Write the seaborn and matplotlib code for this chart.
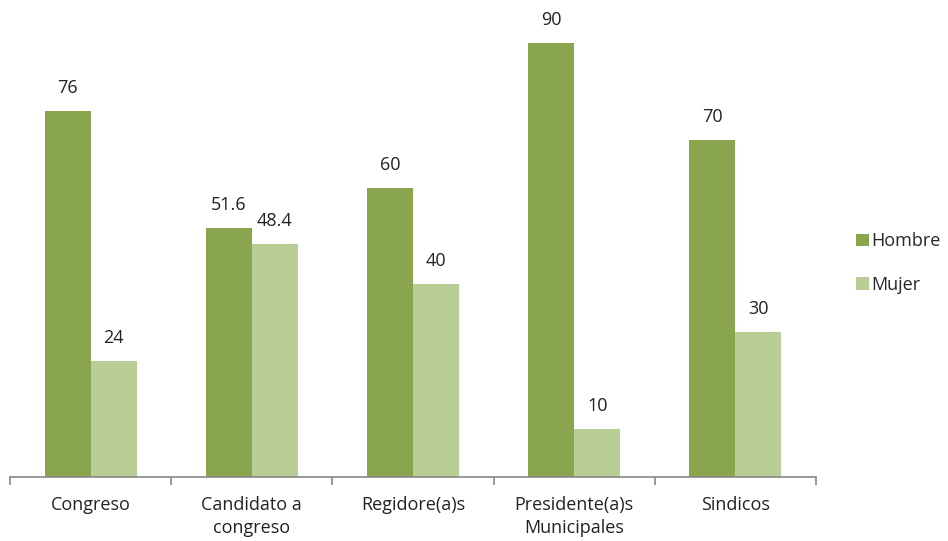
import matplotlib
matplotlib.use("Agg")
import matplotlib.pyplot as plt
import seaborn as sns
import pandas as pd
from matplotlib.patches import Patch

categories = ["Congreso", "Candidato a\ncongreso", "Regidore(a)s", "Presidente(a)s\nMunicipales", "Sindicos"]
hombre = [76, 51.6, 60, 90, 70]
mujer = [24, 48.4, 40, 10, 30]
series = ["Hombre", "Mujer"]
colors = ["#89A54E", "#B9CE96"]

df = pd.DataFrame({
    "cat": categories * 2,
    "val": hombre + mujer,
    "sexo": [series[0]] * len(categories) + [series[1]] * len(categories),
})

sns.set_style("white")
plt.rcParams["font.family"] = ["Open Sans", "DejaVu Sans"]

fig = plt.figure(figsize=(9.48, 5.41), dpi=100)
ax = fig.add_axes([10 / 948, (541 - 477) / 541, 806 / 948, (477 - 19) / 541])

sns.barplot(data=df, x="cat", y="val", hue="sexo", palette=colors, width=0.57,
            saturation=1, ax=ax, legend=False, linewidth=0, edgecolor="none")

for cont in ax.containers:
    labels = [("%g" % v) for v in cont.datavalues]
    ax.bar_label(cont, labels=labels, padding=10, fontsize=13, color="#222222")

ax.set_xlim(-0.5, len(categories) - 0.5)
ax.set_ylim(0, 95)
ax.set_xlabel("")
ax.set_ylabel("")
ax.set_yticks([])
for s in ["top", "right", "left"]:
    ax.spines[s].set_visible(False)
ax.spines["bottom"].set_color("#888888")
ax.spines["bottom"].set_linewidth(1.2)
ax.tick_params(axis="x", which="major", bottom=True, length=0, pad=14, labelsize=13, labelcolor="#222222")
for lbl in ax.get_xticklabels():
    lbl.set_linespacing(1.35)
ax.set_xticks([i - 0.5 for i in range(len(categories) + 1)], minor=True)
ax.tick_params(axis="x", which="minor", bottom=True, length=6, width=1.2, color="#888888", direction="out")

handles = [Patch(facecolor=c, edgecolor="none") for c in colors]
fig.legend(handles, series, loc="center left", bbox_to_anchor=(856 / 948, 1 - 263 / 541),
           frameon=False, fontsize=13, handlelength=0.7, handleheight=0.7,
           handletextpad=0.15, labelspacing=1.4, borderpad=0, borderaxespad=0)

fig.savefig("out.png", dpi=100)
